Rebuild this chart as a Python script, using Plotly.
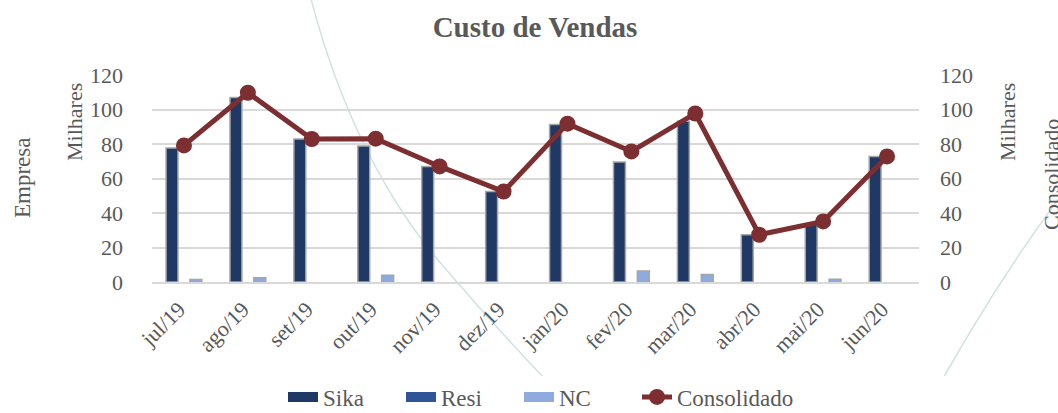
import plotly.graph_objects as go

# ---- data (values in thousands, "Milhares") ----
categories = ["jul/19", "ago/19", "set/19", "out/19", "nov/19", "dez/19",
              "jan/20", "fev/20", "mar/20", "abr/20", "mai/20", "jun/20"]
sika = [77.7, 107.0, 82.9, 78.8, 67.0, 52.4, 91.3, 69.5, 93.2, 27.4, 33.6, 72.8]
resi = [None] * 12
nc = [1.4, 2.5, None, 3.9, None, None, None, 6.4, 4.3, None, 1.6, None]
consolidado = [79.2, 109.7, 82.9, 83.1, 67.0, 52.4, 91.8, 75.7, 97.7, 27.4, 35.1, 72.8]
y_ticks = [0, 20, 40, 60, 80, 100, 120]

FONT = "Liberation Serif"
GREY = "#595959"
W, H = 1058, 413
L, R, T, B = 152, 919, 75, 282  # plot area in pixels

def px(x):
    return (x - L) / (R - L)

def py(y):
    return (B - y) / (B - T)

SIKA_C, RESI_C, NC_C, CONS_C = "#1F3864", "#2F5597", "#8FAADC", "#7C2E30"

fig = go.Figure()
outline = dict(color="#A6A6A6", width=1.5)
fig.add_trace(go.Bar(name="Sika", x=categories, y=sika, showlegend=False,
                     marker=dict(color=SIKA_C, line=outline)))
fig.add_trace(go.Bar(name="Resi", x=categories, y=resi, showlegend=False,
                     marker=dict(color=RESI_C, line=outline)))
fig.add_trace(go.Bar(name="NC", x=categories, y=nc, showlegend=False,
                     marker=dict(color=NC_C, line=outline)))
fig.add_trace(go.Scatter(name="Consolidado", x=categories, y=consolidado,
                         yaxis="y2", mode="lines+markers", showlegend=False,
                         line=dict(color=CONS_C, width=5),
                         marker=dict(color=CONS_C, size=16)))

# legend-only entries (wide swatches like the original)
for name, col in [("Sika", SIKA_C), ("Resi", RESI_C), ("NC", NC_C)]:
    fig.add_trace(go.Scatter(name=name, x=[None], y=[None], mode="lines",
                             line=dict(color=col, width=14)))
fig.add_trace(go.Scatter(name="Consolidado", x=[None], y=[None], yaxis="y2",
                         mode="lines+markers", line=dict(color=CONS_C, width=5),
                         marker=dict(color=CONS_C, size=16)))
# invisible spacer entries so the last legend label is not clipped
for spacer in [" ", "  "]:
    fig.add_trace(go.Scatter(name=spacer, x=[None], y=[None], mode="lines",
                             line=dict(color="rgba(0,0,0,0)", width=0),
                             hoverinfo="skip"))

# faint decorative background curves
def path(points):
    d = "M {:.4f},{:.4f}".format(px(points[0][0]), py(points[0][1]))
    for i in range(1, len(points) - 1, 2):
        c, e = points[i], points[i + 1]
        d += " Q {:.4f},{:.4f} {:.4f},{:.4f}".format(px(c[0]), py(c[1]), px(e[0]), py(e[1]))
    return d

shapes = [
    dict(type="path", xref="paper", yref="paper", layer="below",
         path=path([(310, -5), (350, 150), (432, 253), (510, 345), (585, 420)]),
         line=dict(color="#CFE3E1", width=1.5)),
    dict(type="path", xref="paper", yref="paper", layer="below",
         path=path([(1065, 190), (990, 290), (920, 420)]),
         line=dict(color="#CFE3E1", width=1.5)),
]

def side_title(text, x, y, size=22):
    return dict(text=text, x=px(x), y=py(y), xref="paper", yref="paper",
                xanchor="center", yanchor="middle", textangle=-90,
                showarrow=False, font=dict(family=FONT, size=size, color=GREY))

annotations = [
    side_title("Empresa", 22, 178, 23),
    side_title("Milhares", 74, 122),
    side_title("Milhares", 1007, 122),
    side_title("Consolidado", 1051, 175),
]

axis_common = dict(range=[0, 120], tickvals=y_ticks, ticks="",
                   tickfont=dict(family=FONT, size=22, color=GREY),
                   zeroline=False, fixedrange=True, automargin=False)

fig.update_layout(
    width=W, height=H,
    margin=dict(l=L, r=W - R, t=T, b=H - B, autoexpand=False),
    paper_bgcolor="white", plot_bgcolor="rgba(0,0,0,0)",
    title=dict(text="<b>Custo de Vendas</b>", x=535 / W, xanchor="center",
               y=1 - 27 / H, yanchor="middle", yref="container",
               font=dict(family=FONT, size=29, color=GREY)),
    barmode="group", bargap=0.44, bargroupgap=0,
    xaxis=dict(tickangle=-45, tickfont=dict(family=FONT, size=22, color=GREY),
               range=[-0.5, len(categories) - 0.5], autorange=False,
               showgrid=False, showline=True, linecolor="#D9D9D9", linewidth=1.5,
               ticks="", automargin=False, ticklabelstandoff=4, ticklabelshift=-5),
    yaxis=dict(**axis_common, showgrid=True, gridcolor="#D9D9D9", gridwidth=1.5,
               ticklabelstandoff=28),
    yaxis2=dict(**axis_common, overlaying="y", side="right", showgrid=False,
                ticklabelstandoff=20),
    legend=dict(orientation="h", xref="container", yref="container",
                x=283 / W, xanchor="left", y=1 - 397 / H, yanchor="middle",
                font=dict(family=FONT, size=23, color=GREY),
                entrywidth=73, entrywidthmode="pixels",
                traceorder="normal"),
    shapes=shapes, annotations=annotations,
    showlegend=True,
)

fig.write_html("out.html", config={"displayModeBar": False},
               post_script="document.body.style.margin='0';document.body.style.overflow='hidden';")
